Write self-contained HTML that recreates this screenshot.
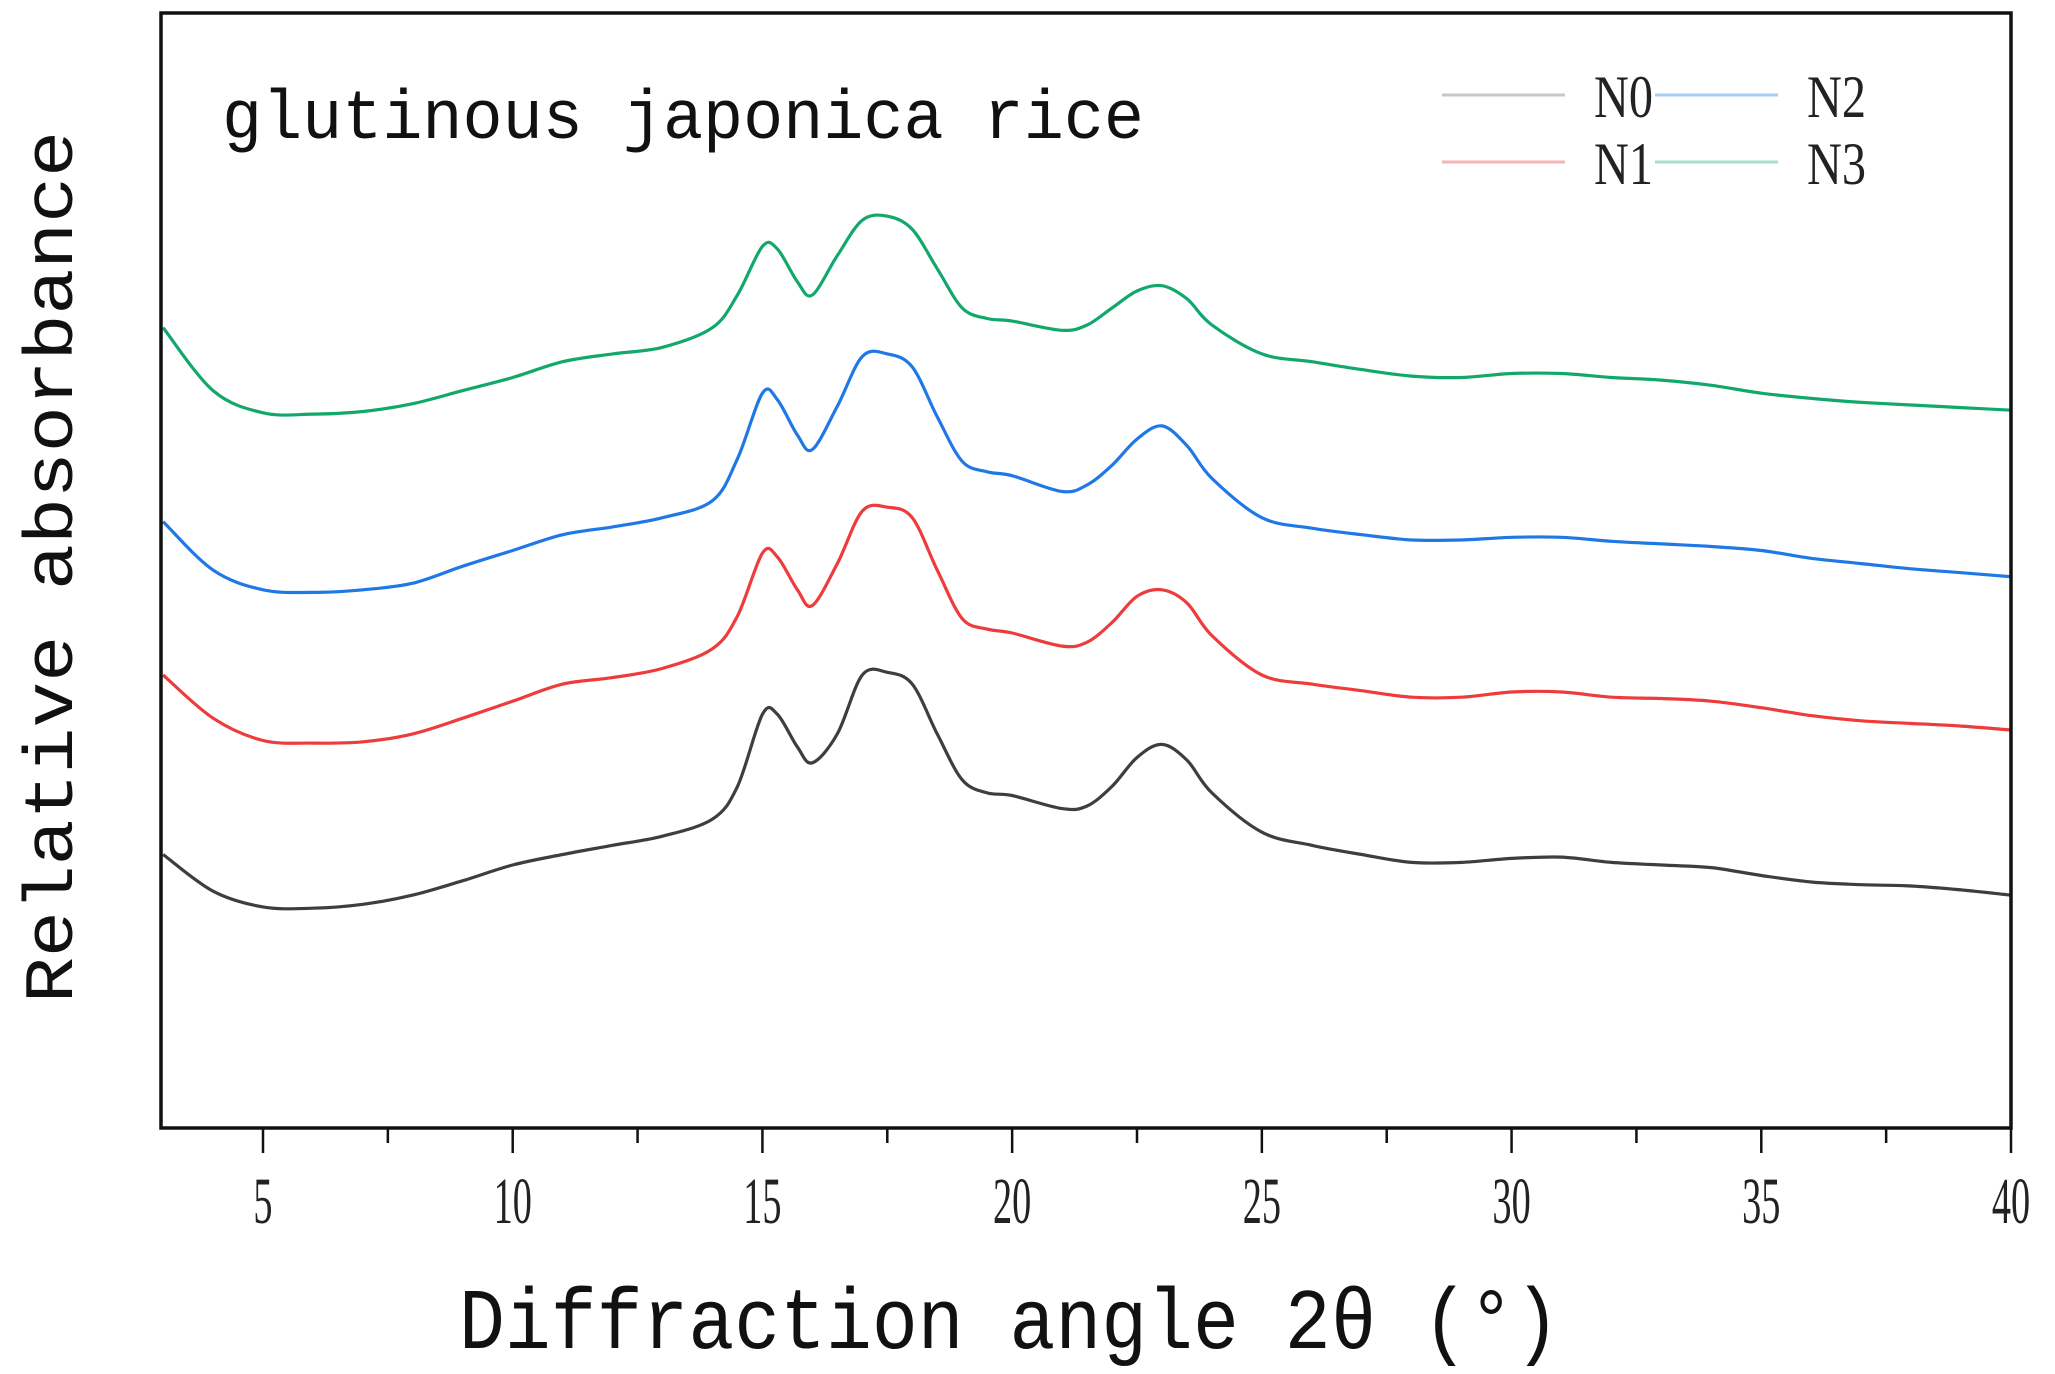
<!DOCTYPE html>
<html><head><meta charset="utf-8"><style>
html,body{margin:0;padding:0;background:#fff;}
svg{display:block;}
</style></head><body>
<svg id="chart" width="2055" height="1374" viewBox="0 0 2055 1374" xmlns="http://www.w3.org/2000/svg">
<rect width="2055" height="1374" fill="#fff"/>
<g id="series"></g>
<g id="xticks"></g>
<rect x="161" y="13" width="1850" height="1115" fill="none" stroke="#111" stroke-width="3.5"/>
<text x="222" y="138" font-family="Liberation Mono, monospace" font-size="70" textLength="922" lengthAdjust="spacingAndGlyphs" fill="#111">glutinous japonica rice</text>
<text x="459" y="1348" font-family="Liberation Mono, monospace" font-size="86" textLength="1101" lengthAdjust="spacingAndGlyphs" fill="#111">Diffraction angle 2θ (°)</text>
<text transform="translate(72,567) rotate(-90)" text-anchor="middle" font-family="Liberation Mono, monospace" font-size="70" textLength="872" lengthAdjust="spacingAndGlyphs" fill="#111">Relative absorbance</text>
<g id="legend">
<line x1="1442" y1="95" x2="1565" y2="95" stroke="#c8c8c8" stroke-width="3"/>
<text x="1594" y="117" font-family="Liberation Serif, serif" font-size="60" textLength="59" lengthAdjust="spacingAndGlyphs" fill="#222">N0</text>
<line x1="1655" y1="95" x2="1778" y2="95" stroke="#a8cdf5" stroke-width="3"/>
<text x="1807" y="117" font-family="Liberation Serif, serif" font-size="60" textLength="59" lengthAdjust="spacingAndGlyphs" fill="#222">N2</text>
<line x1="1442" y1="162" x2="1565" y2="162" stroke="#f8b4b4" stroke-width="3"/>
<text x="1594" y="184" font-family="Liberation Serif, serif" font-size="60" textLength="59" lengthAdjust="spacingAndGlyphs" fill="#222">N1</text>
<line x1="1655" y1="162" x2="1778" y2="162" stroke="#a6dfc6" stroke-width="3"/>
<text x="1807" y="184" font-family="Liberation Serif, serif" font-size="60" textLength="59" lengthAdjust="spacingAndGlyphs" fill="#222">N3</text>
</g>
</svg>
<script>
const angles = [3,4,5,6,7,8,9,10,11,12,13,14,14.5,15,15.3,15.7,16,16.5,17,17.5,18,18.5,19,19.5,20,21,21.5,22,22.5,23,23.5,24,25,26,27,28,29,30,31,32,33,34,35,36,37,38,39,40];
const n0Values = [652,680,692,693,690,683,672,660,652,645,638,625,600,545,545,570,582,560,515,513,522,560,595,605,607,617,615,600,578,568,580,605,635,645,652,658,658,655,654,658,660,662,668,673,675,676,679,683];
const n1Values = [515,548,565,567,566,560,548,535,522,517,510,495,470,422,425,450,462,430,390,387,395,435,472,480,483,493,490,475,455,450,460,485,515,522,527,532,532,528,528,532,533,535,540,546,550,552,554,557];
const n2Values = [398,435,450,452,450,445,432,420,408,402,395,382,350,300,305,332,343,310,272,270,280,318,352,360,363,375,370,355,335,325,340,365,395,403,408,412,412,410,410,413,415,417,420,426,430,434,437,440];
const n3Values = [250,298,315,316,314,308,298,288,276,270,265,250,225,188,190,215,225,195,168,165,175,205,235,243,245,252,248,235,222,218,228,248,270,276,282,287,288,285,285,288,290,294,300,304,307,309,311,313];
const xTickLabels = ["5","10","15","20","25","30","35","40"];
const xTickValues = [5,10,15,20,25,30,35,40];

const NS = "http://www.w3.org/2000/svg";
function xScale(a){ return 263 + (a - 5) * (2011 - 263) / 35; }
function yScale(d){ return d * 1.3106; }

function pathFor(vals){
  const pts = angles.map((a,i)=>[xScale(a), yScale(vals[i])]);
  let d = "M" + pts[0][0].toFixed(1) + "," + pts[0][1].toFixed(1);
  for (let i=0;i<pts.length-1;i++){
    const p0 = pts[Math.max(0,i-1)], p1 = pts[i], p2 = pts[i+1], p3 = pts[Math.min(pts.length-1,i+2)];
    const c1x = p1[0] + (p2[0]-p0[0])/6, c1y = p1[1] + (p2[1]-p0[1])/6;
    const c2x = p2[0] - (p3[0]-p1[0])/6, c2y = p2[1] - (p3[1]-p1[1])/6;
    d += " C" + c1x.toFixed(1)+","+c1y.toFixed(1)+" "+c2x.toFixed(1)+","+c2y.toFixed(1)+" "+p2[0].toFixed(1)+","+p2[1].toFixed(1);
  }
  return d;
}

const sg = document.getElementById("series");
const defs = [["n0",n0Values,"#3e3e3e"],["n1",n1Values,"#ee3b3b"],["n2",n2Values,"#1f78e6"],["n3",n3Values,"#12a86b"]];
defs.forEach(s=>{
  const p = document.createElementNS(NS,"path");
  p.setAttribute("d", pathFor(s[1]));
  p.setAttribute("fill","none");
  p.setAttribute("stroke", s[2]);
  p.setAttribute("stroke-width","3.2");
  p.setAttribute("stroke-linejoin","round");
  
  
  sg.appendChild(p);
});

const tg = document.getElementById("xticks");
for (let v=5; v<=40; v+=2.5){
  const major = (v % 5 === 0);
  const l = document.createElementNS(NS,"line");
  l.setAttribute("x1", xScale(v)); l.setAttribute("x2", xScale(v));
  l.setAttribute("y1", 1128); l.setAttribute("y2", major ? 1153 : 1143);
  l.setAttribute("stroke","#111"); l.setAttribute("stroke-width","2.5");
  
  
  tg.appendChild(l);
}
xTickValues.forEach((v,i)=>{
  const t = document.createElementNS(NS,"text");
  t.setAttribute("x", xScale(v)); t.setAttribute("y", 1223);
  t.setAttribute("text-anchor","middle");
  t.setAttribute("font-family","Liberation Serif, serif");
  t.setAttribute("font-size","66");
  t.setAttribute("fill","#222");
  t.setAttribute("transform","translate(" + xScale(v) + ",0) scale(0.58,1) translate(" + (-xScale(v)) + ",0)");
  t.textContent = xTickLabels[i];
  
  
  tg.appendChild(t);
});
</script>
</body></html>
